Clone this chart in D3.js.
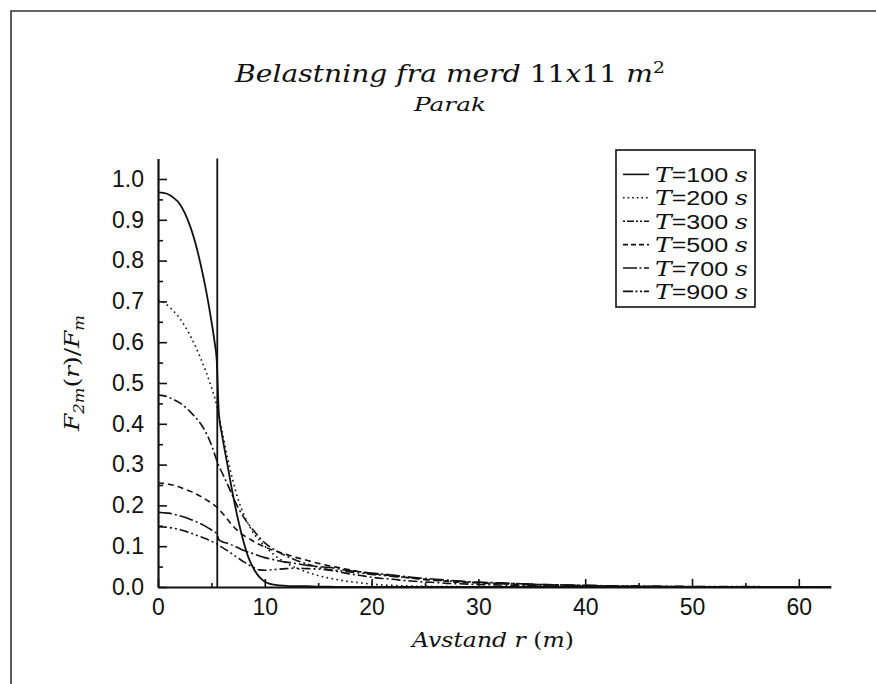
<!DOCTYPE html>
<html>
<head>
<meta charset="utf-8">
<script src="https://cdn.jsdelivr.net/npm/d3@7/dist/d3.min.js"></script>
<style>
  html, body { margin: 0; padding: 0; background: #fff; }
  svg { display: block; }
</style>
</head>
<body>
<svg id="chart" width="876" height="684"></svg>
<script>
// ---------------- DATA ----------------
const radius = [
  0, 0.5, 1, 1.5, 2, 2.5, 3, 3.5, 4, 4.5, 5,
  5.3, 5.5, 5.7,
  6, 6.5, 7, 7.5, 8, 8.5, 9, 9.5, 10,
  11, 12, 13, 14, 15, 16, 17, 18, 19, 20, 21, 22, 23, 24, 25, 26, 27, 28, 29, 30,
  32, 34, 36, 38, 40, 42, 44, 46, 48, 50,
  55, 60, 63
];
const seriesNames = ["T=100 s", "T=200 s", "T=300 s", "T=500 s", "T=700 s", "T=900 s"];
const seriesTimes = ["100", "200", "300", "500", "700", "900"];

const valuesT100 = [
  0.967, 0.966, 0.962, 0.953, 0.940, 0.917, 0.885, 0.843, 0.790, 0.727, 0.652,
  0.600, 0.555, 0.425,
  0.372, 0.300, 0.228, 0.165, 0.112, 0.070, 0.043, 0.024, 0.013,
  0.005, 0.003, 0.002, 0.002, 0.001, 0.001, 0, 0, 0, 0, 0, 0, 0, 0, 0, 0, 0, 0, 0, 0,
  0, 0, 0, 0, 0, 0, 0, 0, 0, 0,
  0, 0, 0
];
const valuesT200 = [
  0.703, 0.698, 0.688, 0.675, 0.660, 0.640, 0.617, 0.590, 0.560, 0.527, 0.490,
  0.465, 0.445, 0.420,
  0.383, 0.318, 0.262, 0.215, 0.180, 0.152, 0.130, 0.114, 0.100,
  0.076, 0.059, 0.046, 0.036, 0.028, 0.022, 0.017, 0.013, 0.010, 0.007, 0.005, 0.004, 0.003, 0.002, 0.002, 0.001, 0.001, 0.001, 0, 0,
  0, 0, 0, 0, 0, 0, 0, 0, 0, 0,
  0, 0, 0
];
const valuesT300 = [
  0.471, 0.469, 0.465, 0.459, 0.452, 0.442, 0.430, 0.416, 0.400, 0.378, 0.348,
  0.326, 0.310, 0.297,
  0.280, 0.252, 0.222, 0.195, 0.172, 0.153, 0.137, 0.121, 0.108,
  0.090, 0.076, 0.065, 0.056, 0.048, 0.042, 0.037, 0.032, 0.028, 0.024, 0.021, 0.019, 0.016, 0.014, 0.012, 0.011, 0.009, 0.008, 0.007, 0.006,
  0.005, 0.004, 0.003, 0.002, 0.002, 0.001, 0.001, 0.001, 0, 0,
  0, 0, 0
];
const valuesT500 = [
  0.255, 0.254, 0.252, 0.249, 0.245, 0.240, 0.235, 0.229, 0.222, 0.214, 0.206,
  0.200, 0.196, 0.190,
  0.182, 0.166, 0.150, 0.137, 0.127, 0.119, 0.111, 0.104, 0.098,
  0.088, 0.080, 0.072, 0.065, 0.058, 0.052, 0.047, 0.042, 0.037, 0.033, 0.030, 0.027, 0.024, 0.021, 0.018, 0.016, 0.014, 0.012, 0.011, 0.010,
  0.008, 0.006, 0.005, 0.004, 0.003, 0.002, 0.002, 0.001, 0.001, 0,
  0, 0, 0
];
const valuesT700 = [
  0.183, 0.182, 0.181, 0.178, 0.175, 0.171, 0.166, 0.161, 0.155, 0.148, 0.140,
  0.135, 0.131, 0.116,
  0.111, 0.107, 0.102, 0.096, 0.090, 0.085, 0.081, 0.076, 0.072,
  0.066, 0.061, 0.057, 0.053, 0.050, 0.048, 0.044, 0.040, 0.037, 0.034, 0.032, 0.029, 0.026, 0.023, 0.021, 0.019, 0.017, 0.015, 0.013, 0.012,
  0.010, 0.008, 0.006, 0.005, 0.004, 0.003, 0.002, 0.002, 0.001, 0.001,
  0, 0, 0
];
const valuesT900 = [
  0.148, 0.147, 0.146, 0.144, 0.141, 0.137, 0.133, 0.128, 0.123, 0.118, 0.112,
  0.109, 0.106, 0.102,
  0.097, 0.089, 0.080, 0.071, 0.062, 0.054, 0.047, 0.042, 0.041,
  0.043, 0.045, 0.046, 0.045, 0.044, 0.042, 0.040, 0.037, 0.034, 0.031, 0.029, 0.026, 0.024, 0.022, 0.019, 0.017, 0.015, 0.014, 0.012, 0.011,
  0.009, 0.008, 0.006, 0.005, 0.004, 0.003, 0.003, 0.002, 0.002, 0.001,
  0.001, 0, 0
];
const merdEdge = 5.55;           // vertical line (edge of the cage), m
const xTicksMajor = [0, 10, 20, 30, 40, 50, 60];
const xTicksMinor = [5, 15, 25, 35, 45, 55];
const yTicksMajor = [0, 0.1, 0.2, 0.3, 0.4, 0.5, 0.6, 0.7, 0.8, 0.9, 1.0];
const yTicksMinor = [0.05, 0.15, 0.25, 0.35, 0.45, 0.55, 0.65, 0.75, 0.85, 0.95];
const xDomain = [0, 63];
const yDomain = [0, 1.05];

// ---------------- STYLES ----------------
const allValues = [valuesT100, valuesT200, valuesT300, valuesT500, valuesT700, valuesT900];
const dashes = ["none", "1.6,3.4", "9,3,2,3", "6,4", "14,3,2,3", "9,3,2,3,2,3"];
const legendDashes = ["none", "1.6,3", "2,2,7,2,2,2", "5,3", "14,2.5,2,2.5", "10,2.5,2,2.5,2,2"];
const ink = "#111";
const numFont = "'Liberation Sans', Arial, sans-serif";
const serifFont = "'DejaVu Serif', serif";

const svg = d3.select("#chart");

// stretch a text horizontally so it spans the wanted width
function fit(textSel, width, baseTransform) {
  const len = textSel.node().getComputedTextLength();
  textSel.attr("transform", `${baseTransform} scale(${width / len},1)`);
}

// outer frame (left + top)
svg.append("path")
  .attr("d", "M11,684 V11 H876")
  .attr("fill", "none").attr("stroke", "#333").attr("stroke-width", 1.6);

const x = d3.scaleLinear().domain(xDomain).range([158, 158 + 63 * 10.68]);
const y = d3.scaleLinear().domain(yDomain).range([587, 587 - 1.05 * 408]);

// ---------- axes ----------
const gx = svg.append("g").attr("transform", `translate(0,${y(0)})`);
gx.call(d3.axisBottom(x).tickValues(xTicksMajor).tickSize(-8).tickSizeOuter(0)
  .tickPadding(12).tickFormat(d3.format("d")));
const gxm = svg.append("g").attr("transform", `translate(0,${y(0)})`);
gxm.call(d3.axisBottom(x).tickValues(xTicksMinor).tickSize(-4).tickSizeOuter(0).tickFormat(""));
gxm.select(".domain").remove();

const gy = svg.append("g").attr("transform", `translate(${x(0)},0)`);
gy.call(d3.axisLeft(y).tickValues(yTicksMajor).tickSize(-9).tickSizeOuter(0)
  .tickPadding(14).tickFormat(d3.format(".1f")));
const gym = svg.append("g").attr("transform", `translate(${x(0)},0)`);
gym.call(d3.axisLeft(y).tickValues(yTicksMinor).tickSize(-5).tickSizeOuter(0).tickFormat(""));
gym.select(".domain").remove();

svg.selectAll(".domain").attr("stroke", ink).attr("stroke-width", 2.2);
svg.selectAll(".tick line").attr("stroke", ink).attr("stroke-width", 1.6);
svg.selectAll(".tick text").attr("fill", ink)
  .style("font-family", numFont).style("font-size", "23px");

// vertical line at the cage edge
svg.append("line")
  .attr("x1", x(merdEdge)).attr("x2", x(merdEdge))
  .attr("y1", y(0)).attr("y2", y(yDomain[1]))
  .attr("stroke", ink).attr("stroke-width", 1.8);

// ---------- curves ----------
const line = d3.line()
  .x((d, i) => x(radius[i]))
  .y(d => y(d))
  .curve(d3.curveMonotoneX);

allValues.forEach((vals, k) => {
  svg.append("path")
    .attr("d", line(vals))
    .attr("fill", "none")
    .attr("stroke", ink)
    .attr("stroke-width", k === 0 ? 1.8 : 1.6)
    .attr("stroke-dasharray", dashes[k]);
});

// ---------- titles ----------
const title = svg.append("text")
  .attr("x", 0).attr("y", 0)
  .attr("text-anchor", "middle")
  .attr("fill", ink)
  .style("font-family", serifFont).style("font-size", "24px");
title.append("tspan").style("font-style", "italic").text("Belastning fra merd ");
title.append("tspan").text("11");
title.append("tspan").style("font-style", "italic").text("x");
title.append("tspan").text("11 ");
title.append("tspan").style("font-style", "italic").text("m");
title.append("tspan").style("font-size", "16px").attr("dy", -9).text("2");
fit(title, 430, "translate(450,82)");

const sub = svg.append("text")
  .attr("x", 0).attr("y", 0)
  .attr("text-anchor", "middle").attr("fill", ink)
  .style("font-family", serifFont).style("font-style", "italic").style("font-size", "19px")
  .text("Parak");
fit(sub, 72, "translate(450,111)");

// x axis label
const xl = svg.append("text")
  .attr("x", 0).attr("y", 0)
  .attr("text-anchor", "middle").attr("fill", ink)
  .style("font-family", serifFont).style("font-size", "21px");
xl.append("tspan").style("font-style", "italic").text("Avstand r ");
xl.append("tspan").text("(");
xl.append("tspan").style("font-style", "italic").text("m");
xl.append("tspan").text(")");
fit(xl, 162, "translate(493,647)");

// y axis label
const yl = svg.append("text")
  .attr("x", 0).attr("y", 0)
  .attr("text-anchor", "middle").attr("fill", ink)
  .style("font-family", serifFont).style("font-size", "21px");
yl.append("tspan").style("font-style", "italic").text("F");
yl.append("tspan").style("font-style", "italic").style("font-size", "14px").attr("dy", 5).text("2m");
yl.append("tspan").attr("dy", -5).text("(");
yl.append("tspan").style("font-style", "italic").text("r");
yl.append("tspan").text(")/");
yl.append("tspan").style("font-style", "italic").text("F");
yl.append("tspan").style("font-style", "italic").style("font-size", "14px").attr("dy", 5).text("m");
fit(yl, 116, "translate(79,373) rotate(-90)");

// ---------- legend ----------
const lg = svg.append("g");
lg.append("rect")
  .attr("x", 616).attr("y", 150).attr("width", 139).attr("height", 157)
  .attr("fill", "#fff").attr("stroke", ink).attr("stroke-width", 1.6);
seriesNames.forEach((name, i) => {
  const cy = 174.4 + i * 23.4;
  lg.append("line")
    .attr("x1", 623).attr("x2", 649).attr("y1", cy).attr("y2", cy)
    .attr("stroke", ink).attr("stroke-width", 1.6)
    .attr("stroke-dasharray", legendDashes[i]);
  const t = lg.append("text")
    .attr("x", 0).attr("y", 0).attr("fill", ink)
    .style("font-family", numFont).style("font-size", "21px");
  t.append("tspan").style("font-family", serifFont).style("font-style", "italic").text("T");
  t.append("tspan").text("=" + seriesTimes[i] + " ");
  t.append("tspan").style("font-family", serifFont).style("font-style", "italic").text("s");
  fit(t, 93, `translate(655,${cy + 7.5})`);
});
</script>
</body>
</html>
